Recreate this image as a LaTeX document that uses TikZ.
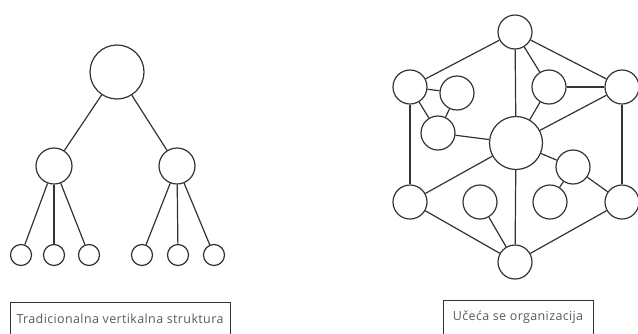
\documentclass[tikz,border=0pt]{standalone}
\usepackage{fontspec}
\setmainfont{Open Sans}[LetterSpace=3]
\begin{document}
\begin{tikzpicture}[x=1pt,y=-1pt,
  node/.style={circle,draw=black!80,line width=1.2pt,fill=white,inner sep=0pt,minimum size=#1},
  node/.default=34pt,
  edge/.style={draw=black!80,line width=1.2pt},
  label/.style={draw=black!80,line width=1pt,minimum height=34pt,inner xsep=6pt,text=black!65,font=\fontsize{12.5}{14}\selectfont}]
  \useasboundingbox (0,0) rectangle (638,333);
  % tradicionalna struktura
  \node[node=54pt] (R) at (117,72) {};
  \node[node=36pt] (A) at (54,166) {};
  \node[node=36pt] (B) at (177,166) {};
  \node[node=21pt] (L1) at (21,255) {};
  \node[node=21pt] (L2) at (54,255) {};
  \node[node=21pt] (L3) at (89,255) {};
  \node[node=21pt] (L4) at (142,255) {};
  \node[node=21pt] (L5) at (178,255) {};
  \node[node=21pt] (L6) at (214,255) {};
  \draw[edge] (R) -- (A);
  \draw[edge] (R) -- (B);
  \foreach \l in {L1,L2,L3} \draw[edge] (A) -- (\l);
  \foreach \l in {L4,L5,L6} \draw[edge] (B) -- (\l);
  % ucece organizacija
  \node[node] (T) at (515,32) {};
  \node[node] (UL) at (410,87) {};
  \node[node] (UR) at (622,87) {};
  \node[node] (LL) at (410,202) {};
  \node[node] (LR) at (622,202) {};
  \node[node] (Bo) at (515,262) {};
  \node[node=53pt] (C) at (516,143) {};
  \node[node] (S1) at (457,93) {};
  \node[node] (S2) at (438,133) {};
  \node[node] (S3) at (549,87) {};
  \node[node] (S4) at (573,167) {};
  \node[node] (S5) at (550,202) {};
  \node[node] (S6) at (480,202) {};
  \draw[edge] (T) -- (UL);
  \draw[edge] (T) -- (UR);
  \draw[edge] (T) -- (C);
  \draw[edge] (T) -- (S3);
  \draw[edge] (UL) -- (LL);
  \draw[edge] (UR) -- (LR);
  \draw[edge] (UL) -- (S1);
  \draw[edge] (UL) -- (S2);
  \draw[edge] (S1) -- (S2);
  \draw[edge] (S2) -- (C);
  \draw[edge] (S3) -- (UR);
  \draw[edge] (S3) -- (C);
  \draw[edge] (UR) -- (C);
  \draw[edge] (C) -- (LL);
  \draw[edge] (C) -- (Bo);
  \draw[edge] (C) -- (S4);
  \draw[edge] (S4) -- (LR);
  \draw[edge] (S4) -- (S5);
  \draw[edge] (LL) -- (Bo);
  \draw[edge] (LR) -- (Bo);
  \draw[edge] (S6) -- (Bo);
  % oznake
  \node[label,minimum width=220pt] (TV) at (120,319) {Tradicionalna vertikalna struktura};
  \node[label,minimum width=150pt] (UO) at (518,317) {Učeća se organizacija};
\end{tikzpicture}
\end{document}
